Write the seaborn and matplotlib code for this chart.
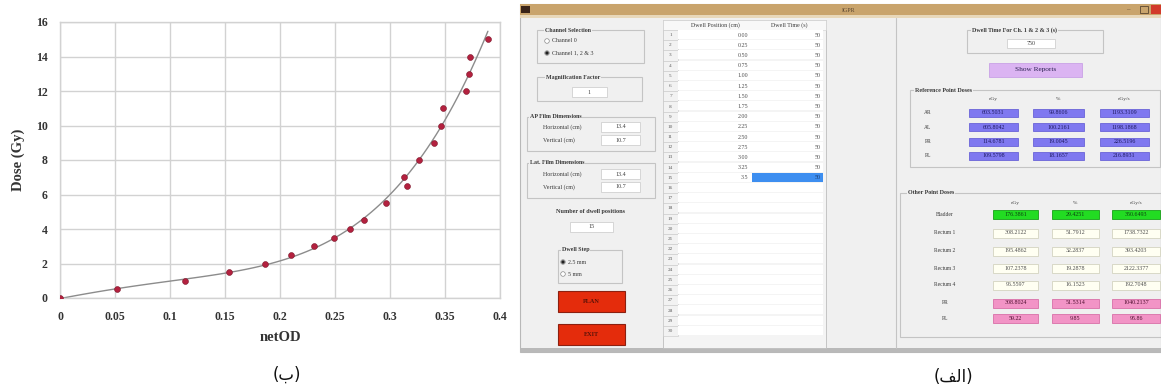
import numpy as np
import pandas as pd
import matplotlib
matplotlib.use("Agg")
import matplotlib.pyplot as plt
import seaborn as sns
from matplotlib.patches import Rectangle, Circle

# ---------------- calibration data (netOD vs dose) ----------------
net_od = [0.0, 0.052, 0.114, 0.154, 0.186, 0.210, 0.231, 0.249, 0.264, 0.276,
          0.296, 0.313, 0.315, 0.326, 0.340, 0.346, 0.348, 0.369, 0.372, 0.373, 0.389]
dose_gy = [0.0, 0.5, 1.0, 1.5, 2.0, 2.5, 3.0, 3.5, 4.0, 4.5,
           5.5, 7.0, 6.5, 8.0, 9.0, 10.0, 11.0, 12.0, 13.0, 14.0, 15.0]
x_ticks = [0, 0.05, 0.1, 0.15, 0.2, 0.25, 0.3, 0.35, 0.4]
x_tick_labels = ["0", "0.05", "0.1", "0.15", "0.2", "0.25", "0.3", "0.35", "0.4"]
y_ticks = [0, 2, 4, 6, 8, 10, 12, 14, 16]

# ---------------- planning window contents ----------------
dwell_positions = ["0.00", "0.25", "0.50", "0.75", "1.00", "1.25", "1.50", "1.75",
                   "2.00", "2.25", "2.50", "2.75", "3.00", "3.25", "3.5"]
dwell_times = ["50"] * 15
n_table_rows = 30
total_dwell_time = "750"
dose_headers = ["cGy", "%", "cGy/s"]
ref_points = ["AR", "AL", "PR", "PL"]
ref_values = [["603.5031", "99.8606", "1193.3109"],
              ["605.8042", "100.2161", "1198.1868"],
              ["114.6781", "19.0045", "226.5196"],
              ["109.5798", "18.1657", "216.8931"]]
other_points = ["Bladder", "Rectum 1", "Rectum 2", "Rectum 3", "Rectum 4", "PR", "PL"]
other_values = [["176.3861", "29.4251", "350.6493"],
                ["308.2122", "51.7912", "1738.7322"],
                ["195.4862", "32.2837", "393.4203"],
                ["107.2378", "19.2878", "2122.3377"],
                ["96.5597", "16.1523", "192.7048"],
                ["308.8024", "51.5314", "1040.2137"],
                ["59.22", "9.85", "95.86"]]

sns.set_theme(style="whitegrid")
plt.rcParams["font.family"] = ["Liberation Serif", "DejaVu Serif"]

W, H = 1161, 388
fig = plt.figure(figsize=(W / 100, H / 100), dpi=100)
fig.patch.set_facecolor("white")

# ---------------- window mock-up drawn in pixel coordinates ----------------
ui = fig.add_axes([0, 0, 1, 1])
ui.set_xlim(0, W)
ui.set_ylim(H, 0)
ui.axis("off")
ui.patch.set_visible(False)


def rect(x0, y0, x1, y1, fc, ec="none", lw=0.6, z=1):
    ui.add_patch(Rectangle((x0, y0), x1 - x0, y1 - y0, facecolor=fc,
                           edgecolor=ec, linewidth=lw, zorder=z))


def txt(x, y, s, size=4.3, ha="left", weight="normal", color="#3a3a3a", z=5):
    ui.text(x, y, s, fontsize=size, ha=ha, va="center", weight=weight,
            color=color, zorder=z)


def group(x0, y0, x1, y1, title, tx=None):
    rect(x0, y0, x1, y1, "none", "#c4c4c4", 0.8, 2)
    tx = x0 + 6 if tx is None else tx
    ui.text(tx, y0, title, fontsize=4.3, ha="left", va="center",
            weight="bold", color="#3a3a3a", zorder=5,
            bbox=dict(boxstyle="square,pad=0.1", fc="#f0f0f0", ec="none"))


def field(x0, y0, x1, y1, s, fc="white", ec="#d0d0d0", color="#404040"):
    rect(x0, y0, x1, y1, fc, ec, 0.6, 3)
    txt((x0 + x1) / 2, (y0 + y1) / 2, s, ha="center", color=color)


def radio(x, y, s, on):
    ui.add_patch(Circle((x, y), 2.3, facecolor="white", edgecolor="#8a8a8a",
                        linewidth=0.5, zorder=6))
    if on:
        ui.add_patch(Circle((x, y), 1.5, facecolor="#202020",
                            edgecolor="#202020", linewidth=0.3, zorder=7))
    txt(x + 5, y, s)


# window frame, title bar and body
rect(520, 4, W, 352, "#f0f0f0", "#b8b8b8", 0.8, 0)
rect(520, 4, W, 15, "#c9a46c", z=1)
rect(520, 15, W, 18, "#e8d8ba", z=1)
rect(521, 6, 530, 13, "#3a2418", z=2)
txt(849, 10, "IGPR", size=4.3, ha="center", color="#5a4630")
txt(1128, 9.5, "\u2013", size=5, ha="center", color="#5a4630")
rect(1140, 6, 1148, 13, "none", "#5a4630", 0.6, 2)
rect(1151, 5, W, 14, "#d23a2a", z=2)
rect(520, 348, W, 352, "#b9b9b9", z=1)

# left control column
group(537, 30, 644, 63, "Channel Selection", tx=545)
radio(547, 41, "Channel 0", False)
radio(547, 53, "Channel 1, 2 & 3", True)

group(537, 77, 642, 101, "Magnification Factor", tx=546)
field(572, 87, 607, 97, "1")

group(527, 117, 655, 151, "AP Film Dimensions", tx=530)
txt(543, 127, "Horizontal (cm)")
field(601, 122, 640, 132, "13.4")
txt(543, 140, "Vertical (cm)")
field(601, 135, 640, 145, "10.7")

group(527, 163, 655, 198, "Lat. Film Dimensions", tx=530)
txt(543, 174, "Horizontal (cm)")
field(601, 169, 640, 179, "13.4")
txt(543, 187, "Vertical (cm)")
field(601, 182, 640, 192, "10.7")

txt(590, 212, "Number of dwell positions", size=4.4, ha="center", weight="bold")
field(570, 222, 613, 232, str(len(dwell_positions)))

group(558, 250, 622, 283, "Dwell Step", tx=562)
radio(563, 262, "2.5 mm", True)
radio(563, 274, "5 mm", False)

rect(558, 291, 625, 312, "#e42c0c", "#8c2010", 0.8, 3)
txt(591, 301.5, "PLAN", size=4.5, ha="center", weight="bold", color="#5a1208")
rect(558, 324, 625, 345, "#e42c0c", "#8c2010", 0.8, 3)
txt(591, 334.5, "EXIT", size=4.5, ha="center", weight="bold", color="#5a1208")

# dwell table
row_h = 10.2
rect(663, 20, 826, 348, "#f4f4f4", "#bdbdbd", 0.6, 1)
rect(663, 20, 826, 30, "#f8f8f8", "#d0d0d0", 0.4, 2)
txt(715, 25, "Dwell Position (cm)", ha="center")
txt(789, 25, "Dwell Time (s)", ha="center")
for i in range(n_table_rows):
    y0 = 30 + i * row_h
    rect(663, y0, 678, y0 + row_h, "#f2f2f2", "#c8c8c8", 0.4, 2)
    txt(670.5, y0 + row_h / 2, str(i + 1), size=3.8, ha="center", color="#606060")
    rect(678, y0, 823, y0 + row_h - 1.2, "white", z=2)
    if i < len(dwell_positions):
        txt(748, y0 + row_h / 2, dwell_positions[i], ha="right", color="#505050")
        if i == len(dwell_positions) - 1:
            rect(752, y0 + 0.5, 823, y0 + row_h - 0.8, "#3d8ef0", z=3)
            txt(821, y0 + row_h / 2, dwell_times[i], ha="right", color="#1b3b70")
        else:
            txt(821, y0 + row_h / 2, dwell_times[i], ha="right", color="#505050")

# right-hand report panel
ui.plot([896, 896], [18, 348], color="#c4c4c4", lw=0.8, zorder=2)

group(967, 30, 1103, 53, "Dwell Time For Ch. 1 & 2 & 3 (s)", tx=972)
field(1007, 39, 1055, 48, total_dwell_time)

rect(989, 63, 1082, 77, "#dbb4f2", "#c9a2e6", 0.6, 3)
txt(1035.5, 70, "Show Reports", size=5.2, ha="center", color="#2a2050")

group(910, 90, 1160, 167, "Reference Point Doses", tx=915)
ref_cols = [(969, 1018), (1033, 1084), (1100, 1149)]
for (c0, c1), hd in zip(ref_cols, dose_headers):
    txt((c0 + c1) / 2, 99, hd, ha="center", size=3.9)
for r, (name, vals) in enumerate(zip(ref_points, ref_values)):
    yc = 113 + r * 14.3
    txt(928, yc, name, ha="center", size=4)
    for (c0, c1), v in zip(ref_cols, vals):
        field(c0, yc - 4, c1, yc + 4, v, fc="#7f78f0", ec="#6a64d8", color="#1e1a60")

group(900, 193, 1161, 337, "Other Point Doses", tx=908)
oth_cols = [(993, 1038), (1052, 1099), (1112, 1160)]
for (c0, c1), hd in zip(oth_cols, dose_headers):
    txt((c0 + c1) / 2, 203, hd, ha="center", size=3.9)
oth_y = [214, 233, 251, 268, 285, 303, 318]
for r, (name, vals) in enumerate(zip(other_points, other_values)):
    yc = oth_y[r]
    txt(945, yc, name, ha="center", size=4)
    if r == 0:
        fc, ec, col = "#22dc22", "#18a018", "#0c4010"
    elif r >= 5:
        fc, ec, col = "#f294c6", "#d870a8", "#501030"
    else:
        fc, ec, col = "#fffff2", "#d4d4c0", "#505050"
    for (c0, c1), v in zip(oth_cols, vals):
        field(c0, yc - 4.5, c1, yc + 4.5, v, fc=fc, ec=ec, color=col)

# captions
fig.text(287 / W, 1 - 375 / H, "(\ufe8f)", fontsize=12, ha="center", va="center",
         family=["DejaVu Sans"], color="#111111")
fig.text(953 / W, 1 - 377 / H, "(\ufed2\ufedf\ufe8d)", fontsize=12, ha="center",
         va="center", family=["DejaVu Sans"], color="#111111")

# ---------------- calibration curve ----------------
ax = fig.add_axes([60 / W, 1 - 298 / H, 440 / W, 276 / H])
df = pd.DataFrame({"netOD": net_od, "Dose": dose_gy})
sns.regplot(data=df, x="netOD", y="Dose", order=4, ci=None, scatter=False,
            truncate=True, ax=ax, line_kws=dict(color="#8c8c8c", lw=1.0))
sns.scatterplot(data=df, x="netOD", y="Dose", ax=ax, color="#b3213f",
                s=18, edgecolor="#7a1428", linewidth=0.4, zorder=5)
ax.set_xlim(0, 0.4)
ax.set_ylim(0, 16)
ax.set_xticks(x_ticks)
ax.set_xticklabels(x_tick_labels)
ax.set_yticks(y_ticks)
ax.set_facecolor("white")
ax.grid(True, color="#d2d2d2", lw=1.0)
for sp in ax.spines.values():
    sp.set_color("#d2d2d2")
    sp.set_linewidth(1.0)
ax.tick_params(axis="both", length=0, labelsize=8.5, colors="#333333", pad=9)
for lbl in ax.get_xticklabels() + ax.get_yticklabels():
    lbl.set_fontweight("bold")
ax.set_xlabel("netOD", fontsize=10.5, weight="bold", color="#333333", labelpad=6)
ax.set_ylabel("Dose (Gy)", fontsize=10.5, weight="bold", color="#333333", labelpad=8)

fig.savefig("out.png", dpi=100)
